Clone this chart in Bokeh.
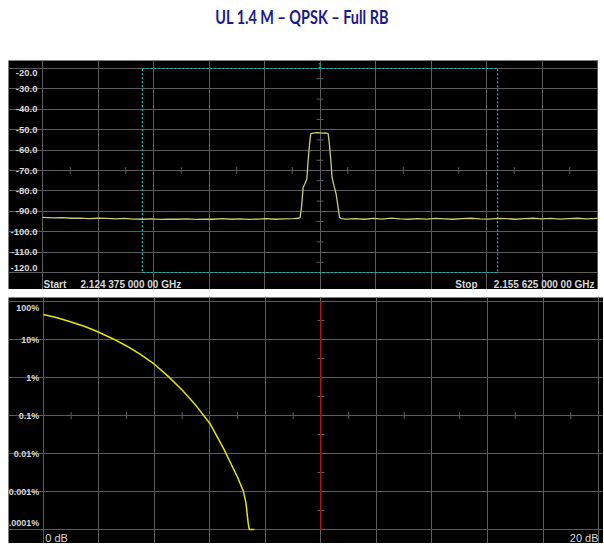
import numpy as np
from bokeh.plotting import figure
from bokeh.models import ColumnDataSource, FixedTicker, Div, Spacer
from bokeh.layouts import column
from bokeh.core.properties import value
from bokeh.embed import file_html
from bokeh.resources import INLINE

# ---------------- data ----------------
TITLE = "UL 1.4 M \u2013 QPSK \u2013 Full RB"

start_ghz = 2.124375
stop_ghz = 2.155625
level_ticks = [-20.0, -30.0, -40.0, -50.0, -60.0, -70.0, -80.0, -90.0, -100.0, -110.0, -120.0]

spec_offset_mhz = [
    -15.625, -15.0, -14.5, -14.0, -13.5, -13.0, -12.5, -12.0, -11.5, -11.0, -10.5, -10.0,
    -9.5, -9.0, -8.5, -8.0, -7.5, -7.0, -6.5, -6.0, -5.5, -5.0, -4.5, -4.0, -3.5, -3.0,
    -2.5, -2.0, -1.5, -1.2,
    -1.12, -1.04, -0.95, -0.86, -0.74, -0.67, -0.59, -0.52, -0.30, -0.14, 0.0, 0.14, 0.30,
    0.46, 0.53, 0.61, 0.68, 0.79, 0.91, 1.02, 1.10,
    1.2, 1.5, 2.0, 2.5, 3.0, 3.5, 4.0, 4.5, 5.0, 5.5, 6.0, 6.5, 7.0, 7.5, 8.0, 8.5, 9.0,
    9.5, 10.0, 10.5, 11.0, 11.5, 12.0, 12.5, 13.0, 13.5, 14.0, 14.5, 15.0, 15.625,
]
spec_level_dbm = [
    -93.0, -93.2, -93.1, -93.4, -93.3, -93.6, -93.4, -93.5, -93.7, -93.5, -93.8, -93.9,
    -93.7, -94.0, -93.8, -93.9, -93.7, -94.0, -93.8, -93.9, -93.6, -93.9, -93.7, -94.0, -93.8, -93.6,
    -93.9, -93.7, -93.6, -93.4,
    -93.0, -88.1, -78.3, -76.7, -74.2, -65.2, -57.1, -51.9, -51.6, -51.5, -51.6, -51.7, -51.6,
    -51.9, -57.1, -65.2, -73.4, -77.5, -81.6, -88.1, -93.0,
    -93.6, -93.8, -93.6, -93.9, -93.5, -93.8, -93.3, -93.7, -93.9, -93.6, -93.8, -93.5, -93.7,
    -93.9, -93.6, -93.4, -93.7, -93.8, -93.5, -93.6, -93.9, -93.6, -93.4, -93.7, -93.5, -93.8,
    -93.6, -93.4, -93.7, -93.5,
]
channel_lo_mhz = -10.0
channel_hi_mhz = 10.0
marker_mhz = 0.0
marker_text = "1"

ccdf_db = [0.0, 0.5, 1.0, 1.5, 2.0, 2.5, 3.0, 3.5, 4.0, 4.5, 5.0, 5.5, 6.0, 6.5, 7.0,
           7.2, 7.3, 7.38, 7.42, 7.6]
ccdf_pct = [45.7, 37.2, 28.8, 21.9, 15.5, 10.5, 6.76, 4.07, 2.24, 1.07, 0.468, 0.182,
            0.0617, 0.0132, 0.00234, 0.00105, 0.000501, 0.000145, 0.0001, 0.0001]
ccdf_pct_ticks = [100, 10, 1, 0.1, 0.01, 0.001, 0.0001]
ccdf_pct_labels = ["100%", "10%", "1%", "0.1%", "0.01%", "0.001%", "0.0001%"]
ccdf_db_min = 0
ccdf_db_max = 20
ccdf_db_labels = ["0 dB", "20 dB"]

# ---------------- styles ----------------
BG = "#000000"
GRID = "#5c5c5c"
LABEL_COLOR = "#d8d8d8"
FONT = "Liberation Sans"
TRACE = "#cccc74"
CCDF = "#e6e600"
CYAN = "#00c8c8"


def txt(size, bold=True):
    return dict(text_font=value(FONT), text_font_size=size,
                text_font_style="bold" if bold else "normal", text_color=LABEL_COLOR)


def ghz_text(v):
    a, b = f"{v:.11f}".split(".")
    return a + "." + " ".join(b[i:i + 3] for i in range(0, len(b), 3)) + " GHz"


def panel(width, height, left_pad, x_range, y_range, y_type="linear"):
    p = figure(width=width, height=height, x_range=x_range, y_range=y_range,
               y_axis_type=y_type, x_axis_location=None, y_axis_location=None,
               output_backend="svg", toolbar_location=None,
               background_fill_color=BG, border_fill_color="white",
               min_border=0, min_border_left=left_pad)
    p.outline_line_color = None
    p.grid.grid_line_color = GRID
    p.grid.grid_line_width = 1
    return p


# ---------------- top: spectrum ----------------
span_mhz = (stop_ghz - start_ghz) * 1000.0
half = span_mhz / 2.0
xdiv = span_mhz / 10.0
ymax, ymin = max(level_ticks), min(level_ticks)

T_W, T_H, T_LEFT = 598, 229, 8
G_L, G_W, G_T, G_H = 34, 555, 8, 204
mpp = span_mhz / G_W
dpp = (ymax - ymin) / G_H
fw = T_W - T_LEFT
top = panel(T_W, T_H, T_LEFT,
            (-half - G_L * mpp, half + (fw - G_L - G_W) * mpp),
            (ymin - (T_H - G_T - G_H) * dpp, ymax + G_T * dpp))
top.xgrid.ticker = FixedTicker(ticks=list(-half + xdiv * np.arange(11)))
top.xgrid.bounds = (ymin, ymax)
top.ygrid.ticker = FixedTicker(ticks=level_ticks)
top.ygrid.bounds = (-half, half)

ystep = (ymax - ymin) / 10.0
top.dash(x=0.0, y=list(ymin + ystep * (np.arange(10) + 0.5)), size=7, line_color=GRID)
top.dash(x=list(-half + xdiv * (np.arange(10) + 0.5)), y=(ymax + ymin) / 2.0, size=7,
         angle=np.pi / 2, line_color=GRID)

top.quad(left=channel_lo_mhz, right=channel_hi_mhz, bottom=ymin, top=ymax,
         fill_color=None, line_color=CYAN, line_dash="2 2", line_width=1.2)

top.line(spec_offset_mhz, spec_level_dbm, line_color=TRACE, line_width=1.3)

n = len(level_ticks)
ysrc = ColumnDataSource(dict(
    x=[-half] * n, y=level_ticks, text=[f"{v:.1f}" for v in level_ticks],
    dy=[4] + [0] * (n - 2) + [-5]))
top.text(x="x", y="y", text="text", source=ysrc, x_offset=-5, y_offset="dy",
         text_align="right", text_baseline="middle", **txt("9.5px"))

top.text(x=[-half], y=[ymin], text=["Start"], x_offset=1, y_offset=12,
         text_baseline="middle", **txt("10px"))
top.text(x=[-half], y=[ymin], text=[ghz_text(start_ghz)], x_offset=38, y_offset=12,
         text_baseline="middle", **txt("10px"))
top.text(x=[half], y=[ymin], text=[ghz_text(stop_ghz)], x_offset=-3, y_offset=12,
         text_align="right", text_baseline="middle", **txt("10px"))
top.text(x=[half], y=[ymin], text=["Stop"], x_offset=-120, y_offset=12,
         text_align="right", text_baseline="middle", **txt("10px"))
top.text(x=[marker_mhz], y=[ymax], text=[marker_text], y_offset=-1, text_align="center",
         text_baseline="bottom", text_font=value(FONT), text_font_size="8px",
         text_color=CYAN)

# ---------------- bottom: CCDF ----------------
pmin, pmax = min(ccdf_pct_ticks), max(ccdf_pct_ticks)
B_W, B_H, B_LEFT = 603, 246, 5
H_L, H_W, H_T, H_H = 35, 558, 4, 228
dbpp = (ccdf_db_max - ccdf_db_min) / H_W
lo, hi = np.log10(pmin), np.log10(pmax)
ldpp = (hi - lo) / H_H
bw = B_W - B_LEFT
bot = panel(B_W, B_H, B_LEFT,
            (ccdf_db_min - H_L * dbpp, ccdf_db_max + (bw - H_L - H_W) * dbpp),
            (10 ** (lo - (B_H - H_T - H_H) * ldpp), 10 ** (hi + H_T * ldpp)), "log")
dbdiv = (ccdf_db_max - ccdf_db_min) / 10.0
bot.xgrid.ticker = FixedTicker(ticks=list(ccdf_db_min + dbdiv * np.arange(11)))
bot.xgrid.bounds = (pmin, pmax)
bot.ygrid.ticker = FixedTicker(ticks=ccdf_pct_ticks)
bot.ygrid.bounds = (ccdf_db_min, ccdf_db_max)

xc = (ccdf_db_min + ccdf_db_max) / 2.0
yc = ccdf_pct_ticks[3]
dec = lo + np.arange(6) + 0.5
bot.dash(x=xc, y=list(10 ** dec), size=7, line_color=GRID)
bot.dash(x=list(ccdf_db_min + dbdiv * (np.arange(10) + 0.5)), y=yc, size=7,
         angle=np.pi / 2, line_color=GRID)
bot.line([xc, xc], [pmin, pmax], line_color="#c00000", line_width=1.3)

bot.line(ccdf_db, ccdf_pct, line_color=CCDF, line_width=1.5)

m = len(ccdf_pct_ticks)
psrc = ColumnDataSource(dict(
    x=[ccdf_db_min] * m, y=ccdf_pct_ticks, text=ccdf_pct_labels,
    dy=[6] + [0] * (m - 2) + [-7]))
bot.text(x="x", y="y", text="text", source=psrc, x_offset=-4, y_offset="dy",
         text_align="right", text_baseline="middle", **txt("9px"))
bot.text(x=[ccdf_db_min], y=[pmin], text=[ccdf_db_labels[0]], x_offset=2, y_offset=8,
         text_baseline="middle", **txt("11px", bold=False))
bot.text(x=[ccdf_db_max], y=[pmin], text=[ccdf_db_labels[1]], x_offset=0, y_offset=8,
         text_align="right", text_baseline="middle", **txt("11px", bold=False))

# ---------------- title ----------------
title = Div(text=(
    '<div style="width:604px;text-align:center;padding-top:6px;">'
    '<span style="display:inline-block;transform:scaleX(0.76);transform-origin:center;'
    'font-family:Lato;font-weight:bold;font-size:19px;line-height:22px;color:#1a1a8c;">'
    + TITLE + '</span></div>'),
    width=604, height=60, margin=(0, 0, 0, 0))

layout = column(title, top, Spacer(width=598, height=8), bot, spacing=0)

open("out.html", "w").write(file_html(layout, INLINE))
